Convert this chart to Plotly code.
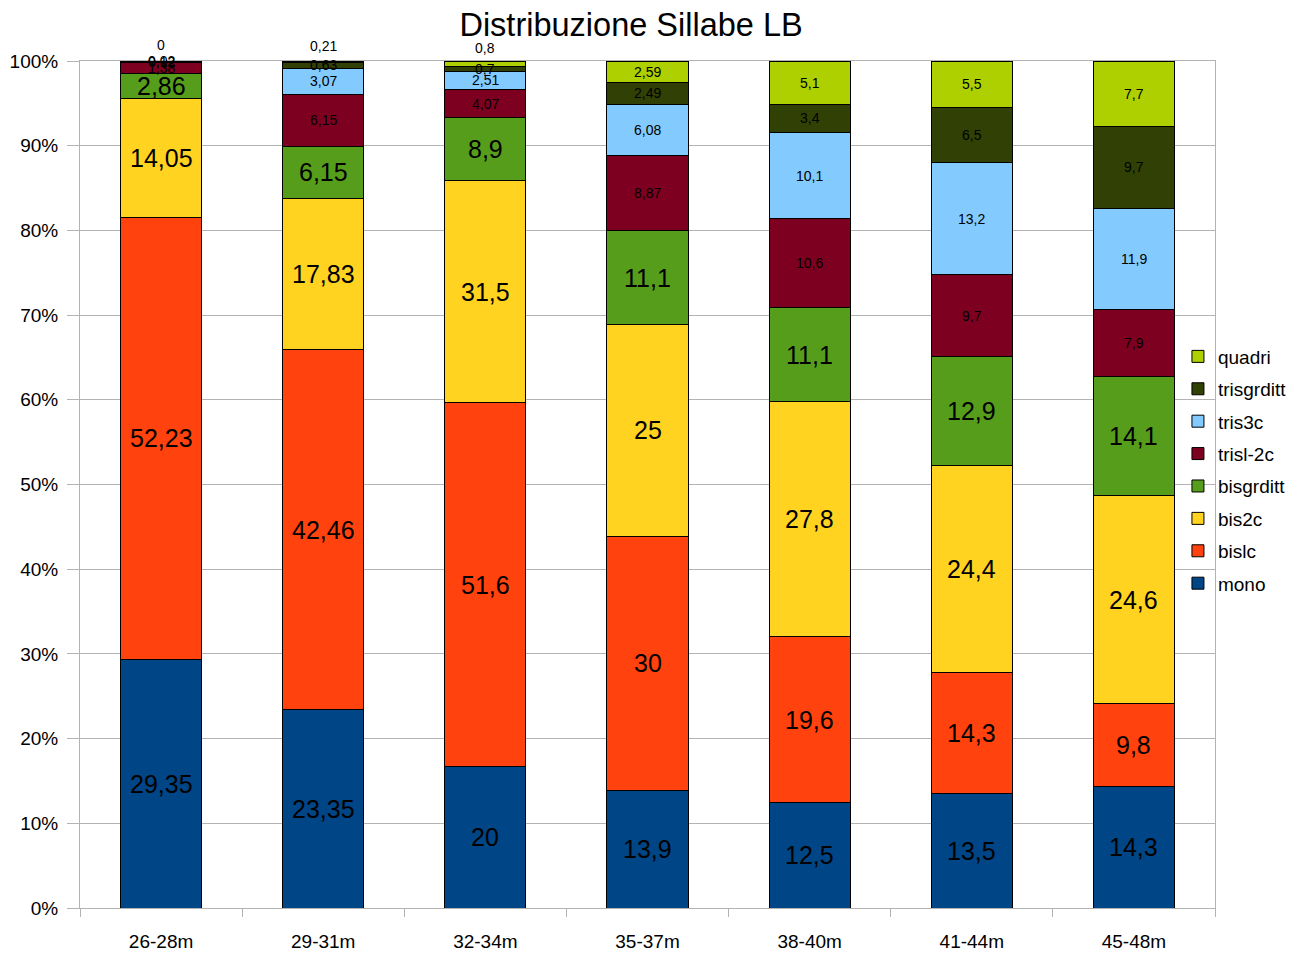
import plotly.graph_objects as go

categories = ["26-28m", "29-31m", "32-34m", "35-37m", "38-40m", "41-44m", "45-48m"]
series_names = ["mono", "bislc", "bis2c", "bisgrditt", "trisl-2c", "tris3c", "trisgrditt", "quadri"]

mono = [29.35, 23.35, 20, 13.9, 12.5, 13.5, 14.3]
bislc = [52.23, 42.46, 51.6, 30, 19.6, 14.3, 9.8]
bis2c = [14.05, 17.83, 31.5, 25, 27.8, 24.4, 24.6]
bisgrditt = [2.86, 6.15, 8.9, 11.1, 11.1, 12.9, 14.1]
trisl_2c = [1.38, 6.15, 4.07, 8.87, 10.6, 9.7, 7.9]
tris3c = [0.12, 3.07, 2.51, 6.08, 10.1, 13.2, 11.9]
trisgrditt = [0.02, 0.63, 0.7, 2.49, 3.4, 6.5, 9.7]
quadri = [0, 0.21, 0.8, 2.59, 5.1, 5.5, 7.7]

tick_vals = [0, 10, 20, 30, 40, 50, 60, 70, 80, 90, 100]
tick_text = ["0%", "10%", "20%", "30%", "40%", "50%", "60%", "70%", "80%", "90%", "100%"]

colors = ["#004586", "#ff420e", "#ffd320", "#579d1c", "#7e0021", "#83caff", "#314004", "#aecf00"]
label_sizes = [25, 25, 25, 25, 14, 14, 14, 14]

all_series = [mono, bislc, bis2c, bisgrditt, trisl_2c, tris3c, trisgrditt, quadri]

fig = go.Figure()
for i, (name, vals, col) in enumerate(zip(series_names, all_series, colors)):
    fig.add_trace(go.Bar(
        name=name, x=categories, y=vals, legendgroup=name, legendrank=1000 - 10 * i,
        marker=dict(color=col, line=dict(color="#000000", width=1)),
        hoverinfo="skip",
    ))

def fmt(v):
    s = ("%g" % v)
    return s.replace(".", ",")

# labels, positioned from normalized cumulative data
annotations = []
for ci, cat in enumerate(categories):
    total = sum(s[ci] for s in all_series)
    cum = 0.0
    for si, s in enumerate(all_series):
        v = s[ci]
        pct = v / total * 100
        center = cum + pct / 2
        if si == 7 and pct < 1.0:
            annotations.append(dict(x=cat, y=center, text=fmt(v), showarrow=False, yshift=16,
                                    font=dict(size=label_sizes[si], color="#000000")))
        else:
            annotations.append(dict(x=cat, y=center, text=fmt(v), showarrow=False,
                                    font=dict(size=label_sizes[si], color="#000000")))
        cum += pct

fig.update_layout(
    barmode="stack",
    barnorm="percent",
    bargap=0.5,
    width=1304, height=946,
    margin=dict(l=72, r=97, t=53, b=46, autoexpand=False),
    paper_bgcolor="white", plot_bgcolor="white",
    font=dict(family="Liberation Sans, Arial, sans-serif", color="#000000"),
    title=dict(text="Distribuzione Sillabe LB", x=0.4778, xanchor="center", y=0.982, yanchor="middle",
               automargin=False, font=dict(size=32.5, color="#000000")),
    legend=dict(traceorder="grouped", x=0.8972, xanchor="left", y=0.5116, yanchor="middle",
                xref="container", yref="container",
                font=dict(size=19), bgcolor="rgba(0,0,0,0)", tracegroupgap=4.7),
    annotations=annotations,
    showlegend=True,
)
fig.update_xaxes(showline=True, linecolor="#b3b3b3", linewidth=1, mirror=True, ticks="outside",
                 tickson="boundaries", ticklen=8, tickcolor="#b3b3b3", tickfont=dict(size=19),
                 ticklabelstandoff=16, showgrid=False)
fig.update_yaxes(range=[0, 100], tickvals=tick_vals, ticktext=tick_text, showline=True, linecolor="#b3b3b3",
                 linewidth=1, mirror=True, ticks="outside", ticklen=12, tickcolor="#b3b3b3",
                 ticklabelstandoff=5,
                 gridcolor="#b3b3b3", gridwidth=1, tickfont=dict(size=19), zeroline=False)

fig.write_html("out.html")
